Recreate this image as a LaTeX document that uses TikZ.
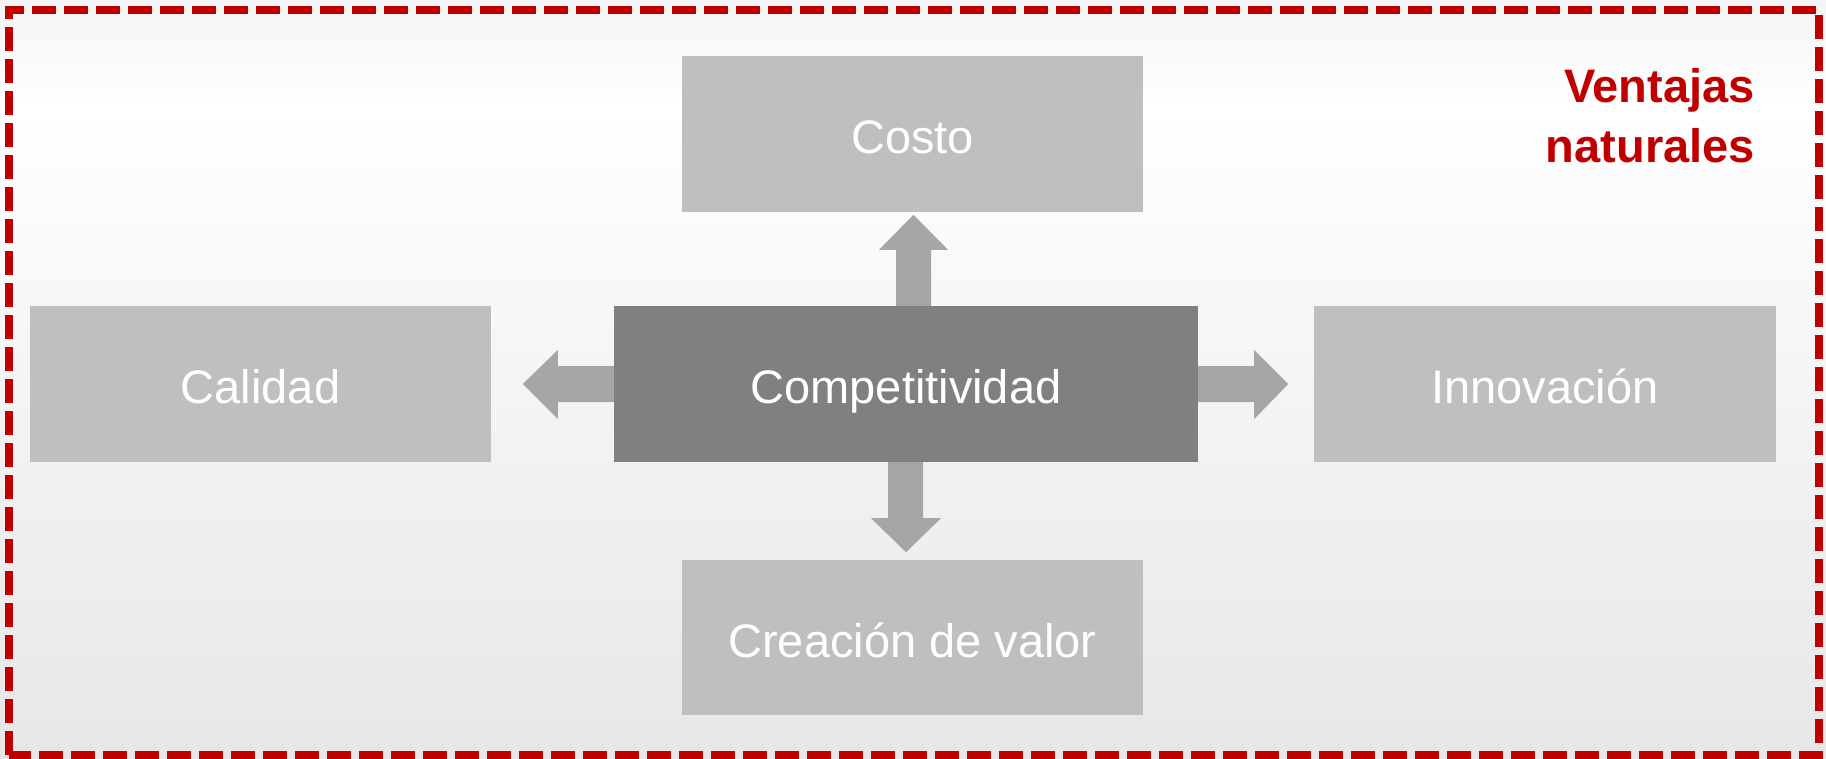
\documentclass[tikz,border=0pt]{standalone}
\usepackage{fontspec}
\setmainfont{Liberation Sans}
\usetikzlibrary{calc}
\definecolor{boxgray}{HTML}{BFBFBF}
\definecolor{centergray}{HTML}{808080}
\definecolor{arrowgray}{HTML}{A6A6A6}
\definecolor{redline}{HTML}{C00000}
\definecolor{bgtop}{HTML}{F4F4F4}
\definecolor{bgbot}{HTML}{E8E6E7}
\pgfdeclareverticalshading{bgshade}{100bp}{color(0bp)=(bgbot); color(25bp)=(bgbot); color(68bp)=(white); color(75bp)=(bgtop); color(100bp)=(bgtop)}
\tikzset{
  box/.style={fill=boxgray, draw=none, minimum width=461pt, minimum height=156pt, inner sep=0pt,
    text=white, font=\fontsize{47}{56}\selectfont, text height=39pt, text depth=0pt},
  centerbox/.style={box, fill=centergray, minimum width=584pt},
  blockarrow/.style={fill=arrowgray, draw=none},
  frame/.style={draw=redline, line width=8pt, dash pattern=on 24pt off 8pt},
  title/.style={text=redline, font=\fontsize{47}{60}\selectfont\bfseries, align=right, inner sep=0pt}
}
\begin{document}
\begin{tikzpicture}[x=1pt,y=-1pt]
\useasboundingbox (0,0) rectangle (1826,759);
\shade[shading=bgshade] (0,0) rectangle (1826,759);
% frame
\coordinate (fbl) at (9,755);
\coordinate (ftl) at (9,10);
\coordinate (ftr) at (1819,10);
\coordinate (fbr) at (1819,755);
\draw[frame] (fbl) -- (ftl) -- (ftr) -- (fbr) -- cycle;
% boxes
\node[box] (costo) at (912.5,134) {Costo};
\node[centerbox] (comp) at (906,384) {Competitividad};
\node[box] (calidad) at (260.5,384) {Calidad};
\node[box, minimum width=462pt] (innov) at (1545,384) {Innovación};
\node[box, minimum height=155pt] (valor) at (912.5,637.5) {Creación de valor};
% title
\node[title, anchor=base east] (titulo) at (1755,163) {Ventajas\\naturales};
% arrows
\fill[blockarrow] ($(comp.north)+(-10,0)$) -- ++(0,-56) -- ++(-17,0) -- ++(34.5,-35) -- ++(34.5,35) -- ++(-17,0) -- ++(0,56) -- cycle;
\fill[blockarrow] ($(comp.west)+(0,-18)$) -- ++(-56,0) -- ++(0,-16) -- ++(-35,34) -- ++(35,35) -- ++(0,-17) -- ++(56,0) -- cycle;
\fill[blockarrow] ($(comp.east)+(0,-18)$) -- ++(56,0) -- ++(0,-16) -- ++(34,34) -- ++(-34,35) -- ++(0,-17) -- ++(-56,0) -- cycle;
\fill[blockarrow] ($(comp.south)+(-18,0)$) -- ++(0,56) -- ++(-17,0) -- ++(35,34) -- ++(35,-34) -- ++(-18,0) -- ++(0,-56) -- cycle;
\end{tikzpicture}
\end{document}
